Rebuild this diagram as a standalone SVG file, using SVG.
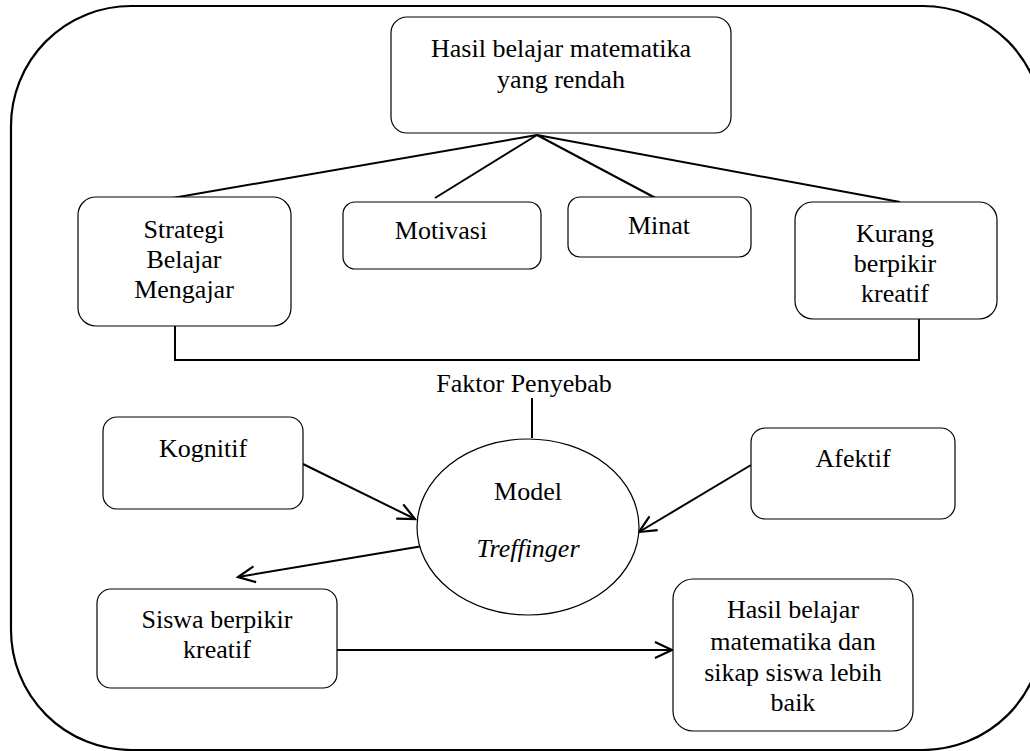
<svg xmlns="http://www.w3.org/2000/svg" width="1030" height="751" viewBox="0 0 1030 751" font-family="Liberation Serif, DejaVu Serif, serif">
<defs>
<marker id="arr" markerUnits="userSpaceOnUse" markerWidth="24" markerHeight="20" refX="20" refY="10" orient="auto">
<path d="M3,2 L20,10 L3,18" fill="none" stroke="#000" stroke-width="2.2"/>
</marker>
<style>
.box{fill:#fff;stroke:#000;stroke-width:1.2}
.t{font-family:'Liberation Serif','DejaVu Serif',serif;font-size:26px;fill:#000;text-anchor:middle}
.c{fill:none;stroke:#000;stroke-width:2}
</style>
</defs>
<rect x="11" y="6" width="1032" height="744" rx="120" ry="120" fill="#fff" stroke="#000" stroke-width="2.2"/>
<g id="connectors">
<line class="c" x1="537" y1="135" x2="161" y2="200" stroke-width="1.8"/>
<line class="c" x1="537" y1="135" x2="435" y2="198" stroke-width="1.8"/>
<line class="c" x1="537" y1="135" x2="663" y2="202" stroke-width="1.8"/>
<line class="c" x1="537" y1="135" x2="900" y2="202" stroke-width="1.8"/>
<polyline class="c" points="175,326 175,360 919,360 919,319" stroke-width="1.8"/>
<line class="c" x1="532" y1="398" x2="532" y2="438" stroke-width="1.5"/>
<line class="c" x1="303" y1="464" x2="415" y2="519" marker-end="url(#arr)"/>
<line class="c" x1="751" y1="465" x2="639" y2="532" marker-end="url(#arr)"/>
<line class="c" x1="423" y1="546" x2="238" y2="577" marker-end="url(#arr)"/>
<line class="c" x1="337" y1="650" x2="672" y2="650" marker-end="url(#arr)"/>
</g>
<g id="hasil-rendah">
<rect class="box" x="391" y="17" width="340" height="116" rx="16"/>
<text class="t" x="561" y="57">Hasil belajar matematika</text>
<text class="t" x="561" y="88">yang rendah</text>
</g>
<g id="strategi">
<rect class="box" x="78" y="197" width="213" height="129" rx="18"/>
<text class="t" x="184" y="238">Strategi</text>
<text class="t" x="184" y="268">Belajar</text>
<text class="t" x="184" y="298">Mengajar</text>
</g>
<g id="motivasi">
<rect class="box" x="343" y="202" width="198" height="67" rx="12"/>
<text class="t" x="441" y="239">Motivasi</text>
</g>
<g id="minat">
<rect class="box" x="568" y="197" width="183" height="60" rx="12"/>
<text class="t" x="659" y="234">Minat</text>
</g>
<g id="kurang">
<rect class="box" x="795" y="202" width="202" height="117" rx="18"/>
<text class="t" x="895" y="242">Kurang</text>
<text class="t" x="895" y="272">berpikir</text>
<text class="t" x="895" y="302">kreatif</text>
</g>
<g id="faktor">
<text class="t" x="524" y="392">Faktor Penyebab</text>
</g>
<g id="kognitif">
<rect class="box" x="103" y="417" width="200" height="92" rx="14"/>
<text class="t" x="203" y="457">Kognitif</text>
</g>
<g id="afektif">
<rect class="box" x="751" y="428" width="204" height="91" rx="14"/>
<text class="t" x="853" y="467">Afektif</text>
</g>
<g id="model">
<ellipse cx="528" cy="527" rx="111" ry="88" fill="#fff" stroke="#000" stroke-width="1.2"/>
<text class="t" x="528" y="500">Model</text>
<text class="t" x="528" y="557" font-style="italic">Treffinger</text>
</g>
<g id="siswa">
<rect class="box" x="97" y="589" width="240" height="99" rx="14"/>
<text class="t" x="217" y="628">Siswa berpikir</text>
<text class="t" x="217" y="658">kreatif</text>
</g>
<g id="hasil-baik">
<rect class="box" x="673" y="579" width="240" height="152" rx="20"/>
<text class="t" x="793" y="618">Hasil belajar</text>
<text class="t" x="793" y="650">matematika dan</text>
<text class="t" x="793" y="681">sikap siswa lebih</text>
<text class="t" x="793" y="711">baik</text>
</g>
</svg>
